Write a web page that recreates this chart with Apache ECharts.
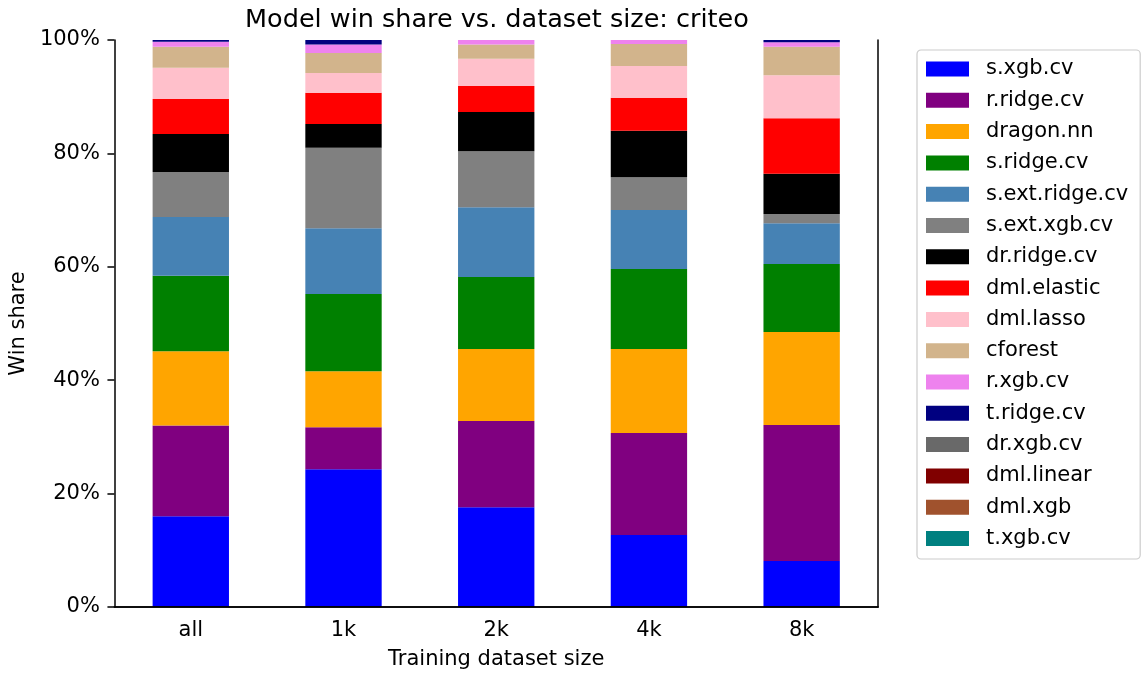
<!DOCTYPE html>
<html><head><meta charset="utf-8">
<script src="https://cdn.jsdelivr.net/npm/echarts@6/dist/echarts.min.js"></script>
<style>html,body{margin:0;padding:0;background:#fff}#c{width:1143px;height:677px}</style>
</head><body><div id="c"></div>
<script>
const categories = ['all', '1k', '2k', '4k', '8k'];
const yTicks = [0, 20, 40, 60, 80, 100];
const seriesNames = ['s.xgb.cv','r.ridge.cv','dragon.nn','s.ridge.cv','s.ext.ridge.cv','s.ext.xgb.cv','dr.ridge.cv','dml.elastic','dml.lasso','cforest','r.xgb.cv','t.ridge.cv','dr.xgb.cv','dml.linear','dml.xgb','t.xgb.cv'];
const seriesColors = ['#0000ff','#800080','#ffa500','#008000','#4682b4','#808080','#000000','#ff0000','#ffc0cb','#d2b48c','#ee82ee','#000080','#696969','#800000','#a0522d','#008080'];
// win share (%) per category
const s_xgb_cv       = [16.0, 24.3, 17.6, 12.7,  8.1];
const r_ridge_cv     = [16.0,  7.4, 15.2, 18.0, 24.0];
const dragon_nn      = [13.1,  9.9, 12.7, 14.8, 16.4];
const s_ridge_cv     = [13.3, 13.6, 12.7, 14.1, 12.0];
const s_ext_ridge_cv = [10.4, 11.6, 12.3, 10.4,  7.2];
const s_ext_xgb_cv   = [ 7.9, 14.2,  9.9,  5.8,  1.6];
const dr_ridge_cv    = [ 6.7,  4.2,  6.9,  8.2,  7.1];
const dml_elastic    = [ 6.2,  5.5,  4.6,  5.8,  9.8];
const dml_lasso      = [ 5.5,  3.5,  4.8,  5.6,  7.6];
const cforest        = [ 3.7,  3.5,  2.5,  3.9,  5.0];
const r_xgb_cv       = [ 0.9,  1.5,  0.8,  0.7,  0.8];
const t_ridge_cv     = [ 0.3,  0.8,  0.0,  0.0,  0.4];
const dr_xgb_cv      = [ 0, 0, 0, 0, 0];
const dml_linear     = [ 0, 0, 0, 0, 0];
const dml_xgb        = [ 0, 0, 0, 0, 0];
const t_xgb_cv       = [ 0, 0, 0, 0, 0];
const seriesValues = [s_xgb_cv, r_ridge_cv, dragon_nn, s_ridge_cv, s_ext_ridge_cv, s_ext_xgb_cv, dr_ridge_cv, dml_elastic, dml_lasso, cforest, r_xgb_cv, t_ridge_cv, dr_xgb_cv, dml_linear, dml_xgb, t_xgb_cv];

const font = 'DejaVu Sans';
const chart = echarts.init(document.getElementById('c'), null, {renderer: 'canvas'});
const series = seriesNames.map((n, i) => ({
  name: n, type: 'bar', stack: 'total', barWidth: '50%',
  data: seriesValues[i], itemStyle: {color: seriesColors[i]},
  emphasis: {disabled: true}
}));
chart.setOption({
  animation: false,
  textStyle: {fontFamily: font},
  title: {text: 'Model win share vs. dataset size: criteo', left: 492, top: 2, textAlign: 'center',
    textStyle: {fontFamily: font, fontSize: 25.5, fontWeight: 'normal', color: '#000'}},
  grid: {left: 114, right: 265, top: 40, bottom: 70},
  legend: {
    orient: 'vertical', left: 917, top: 50, data: seriesNames,
    itemWidth: 43, itemHeight: 15, itemGap: 10.3, icon: 'rect',
    padding: [8.5, 12, 10, 9], borderColor: '#cccccc', borderWidth: 1.2, borderRadius: 4,
    textStyle: {fontFamily: font, fontSize: 21, color: '#000', lineHeight: 21, padding: [0,0,0,12]},
    selectedMode: false
  },
  xAxis: [{
    type: 'category', data: categories, name: 'Training dataset size', nameLocation: 'middle', nameGap: 42,
    nameTextStyle: {fontFamily: font, fontSize: 21, color: '#000'},
    axisLine: {lineStyle: {color: '#000', width: 1.5}}, z: 10,
    axisTick: {alignWithLabel: true, length: 7, lineStyle: {color: '#000', width: 1.5}},
    axisLabel: {fontFamily: font, fontSize: 21, color: '#000', margin: 13}
  }, {
    type: 'category', data: categories, position: 'top', z: 10,
    axisLine: {lineStyle: {color: '#000', width: 1.5}}, axisTick: {show: false}, axisLabel: {show: false}
  }],
  yAxis: [{
    type: 'value', min: 0, max: 100, interval: 20, name: 'Win share', nameLocation: 'middle', nameGap: 82,
    nameTextStyle: {fontFamily: font, fontSize: 21, color: '#000'}, z: 10,
    axisLine: {show: true, lineStyle: {color: '#000', width: 1.5}},
    axisTick: {show: true, length: 7, lineStyle: {color: '#000', width: 1.5}},
    axisLabel: {fontFamily: font, fontSize: 21, color: '#000', margin: 14.5, formatter: v => v + '%'},
    splitLine: {show: false}
  }, {
    type: 'value', min: 0, max: 100, interval: 20, position: 'right', z: 10,
    axisLine: {show: true, lineStyle: {color: '#000', width: 1.5}},
    axisTick: {show: false}, axisLabel: {show: false}, splitLine: {show: false}
  }],
  series: series
});
</script></body></html>
